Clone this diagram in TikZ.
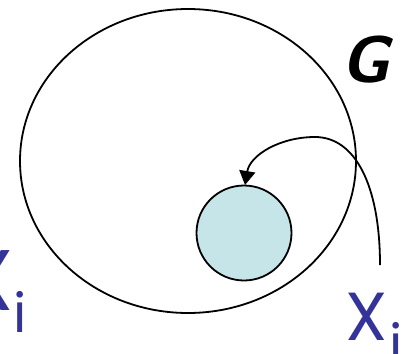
\documentclass[tikz,border=0pt]{standalone}
\usepackage{fontspec}
\usetikzlibrary{arrows.meta}
\newfontfamily\labfont{Poppins}
\definecolor{xblue}{HTML}{333399}
\definecolor{cfill}{HTML}{C5E5E8}
\tikzset{
  line/.style={line width=1.8pt},
  xlab/.style={inner sep=0pt, anchor=base west, text=xblue, font=\labfont},
}
\begin{document}
\begin{tikzpicture}[x=1pt,y=-1pt]
\useasboundingbox (0,0) rectangle (408,354);
\draw[line] (188,161) ellipse [x radius=168, y radius=152];
\node[line, draw, circle, fill=cfill, minimum size=95pt, inner sep=0pt] (c) at (244,233) {};
\coordinate (s) at (380,265);
\coordinate (p) at (315,137);
\coordinate (t) at (245,185);
\draw[line, -{Triangle[length=14pt,width=16pt]}] (s) .. controls (380,185) and (355,137) .. (p) .. controls (280,137) and (250,155) .. (t);
\node[font=\sffamily\bfseries\itshape\fontsize{66}{66}\selectfont] (g) at (366,60) {G};
\node[xlab] (xr) at (345,340) {\fontsize{68}{68}\selectfont X\kern2pt\raisebox{-23pt}{\fontsize{54}{54}\selectfont i}};
\node[xlab] (xl) at (-40,310) {\fontsize{86}{86}\selectfont X\kern0pt\raisebox{-22pt}{\fontsize{54}{54}\selectfont i}};
\end{tikzpicture}
\end{document}
